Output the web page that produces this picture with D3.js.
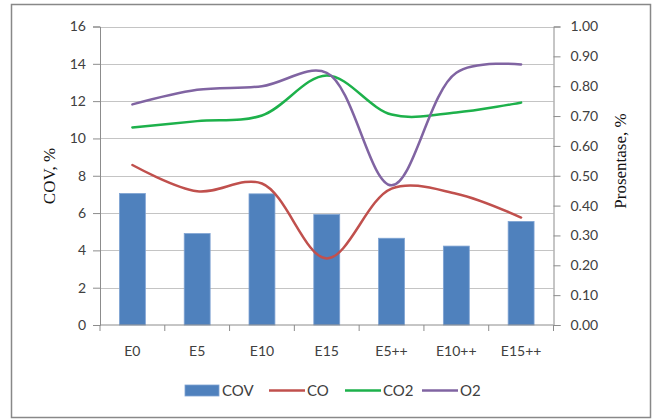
<!DOCTYPE html>
<html>
<head>
<meta charset="utf-8">
<script src="https://cdn.jsdelivr.net/npm/d3@7"></script>
<style>
  html, body { margin: 0; padding: 0; background: #fff; }
  svg { display: block; }
</style>
</head>
<body>
<svg id="chart" width="653" height="420"></svg>
<script>
// Test cases on the x axis
const categories = ["E0", "E5", "E10", "E15", "E5++", "E10++", "E15++"];

// COV, % (primary axis, bars)
const cov = [7.05, 4.9, 7.03, 5.92, 4.65, 4.23, 5.55];

// Gas fractions, % (secondary axis, smoothed lines)
const co  = [0.536, 0.448, 0.474, 0.223, 0.457, 0.440, 0.360];
const co2 = [0.662, 0.683, 0.702, 0.836, 0.705, 0.712, 0.745];
const o2  = [0.739, 0.788, 0.800, 0.845, 0.468, 0.845, 0.873];

const leftTicks  = [0, 2, 4, 6, 8, 10, 12, 14, 16];
const rightTicks = [0, 0.1, 0.2, 0.3, 0.4, 0.5, 0.6, 0.7, 0.8, 0.9, 1.0];

const series = [
  { name: "CO",  values: co,  color: "#C0504D" },
  { name: "CO2", values: co2, color: "#1DB14B" },
  { name: "O2",  values: o2,  color: "#8064A2" }
];

const svg = d3.select("#chart");
const font = "Lato, 'Open Sans', sans-serif";
const textColor = "#404040";
const axisColor = "#8c8c8c";

// chart frame
svg.append("rect")
  .attr("x", 11.5).attr("y", 4.5)
  .attr("width", 639).attr("height", 413)
  .attr("fill", "#fff")
  .attr("stroke", "#888").attr("stroke-width", 1.5);

const plot = { left: 100, right: 553.5, top: 26.5, bottom: 325 };

const x = d3.scaleBand()
  .domain(categories)
  .range([plot.left, plot.right])
  .paddingInner(0.6)
  .paddingOuter(0.3);

const xBand = d3.scaleBand().domain(categories).range([plot.left, plot.right]);

const yL = d3.scaleLinear().domain([0, 16]).range([plot.bottom, plot.top]);
const yR = d3.scaleLinear().domain([0, 1]).range([plot.bottom, plot.top]);

// horizontal gridlines on the primary scale
svg.append("g")
  .selectAll("line")
  .data(leftTicks.filter(d => d > 0))
  .join("line")
  .attr("x1", plot.left).attr("x2", plot.right)
  .attr("y1", d => Math.round(yL(d)) + 0.5)
  .attr("y2", d => Math.round(yL(d)) + 0.5)
  .attr("stroke", "#c4c4c4").attr("stroke-width", 1.2);

// bars
svg.append("g")
  .selectAll("rect")
  .data(categories)
  .join("rect")
  .attr("x", (d) => x(d))
  .attr("width", x.bandwidth())
  .attr("y", (d, i) => yL(cov[i]))
  .attr("height", (d, i) => plot.bottom - yL(cov[i]))
  .attr("fill", "#4F81BD")
  .attr("stroke", "#7fa3d3").attr("stroke-width", 0.8);

// left axis
const leftAxis = svg.append("g")
  .attr("transform", `translate(${plot.left},0)`)
  .call(d3.axisLeft(yL).tickValues(leftTicks).tickSize(7).tickPadding(7).tickFormat(d3.format("d")));
leftAxis.select(".domain").attr("stroke", axisColor);
leftAxis.selectAll(".tick line").attr("stroke", axisColor);
leftAxis.selectAll("text").attr("font-family", font).attr("font-size", 14).attr("fill", textColor);

// right axis
const rightAxis = svg.append("g")
  .attr("transform", `translate(${plot.right},0)`)
  .call(d3.axisRight(yR).tickValues(rightTicks).tickSize(7).tickPadding(10).tickFormat(d3.format(".2f")));
rightAxis.select(".domain").attr("stroke", axisColor);
rightAxis.selectAll(".tick line").attr("stroke", axisColor);
rightAxis.selectAll("text").attr("font-family", font).attr("font-size", 14).attr("fill", textColor);

// bottom axis: labels centred on bands, ticks on band boundaries
const bottom = svg.append("g").attr("transform", `translate(0,${plot.bottom})`);
bottom.append("line")
  .attr("x1", plot.left).attr("x2", plot.right)
  .attr("stroke", axisColor);
const bounds = categories.map(c => xBand(c)).concat([plot.right]);
bottom.selectAll("line.tk")
  .data(bounds)
  .join("line")
  .attr("class", "tk")
  .attr("x1", d => d).attr("x2", d => d)
  .attr("y1", 0).attr("y2", 6)
  .attr("stroke", axisColor);
bottom.selectAll("text")
  .data(categories)
  .join("text")
  .attr("x", d => xBand(d) + xBand.bandwidth() / 2)
  .attr("y", 31)
  .attr("text-anchor", "middle")
  .attr("font-family", font).attr("font-size", 14).attr("fill", textColor)
  .text(d => d);

// smoothed lines on the secondary scale
const line = d3.line()
  .x((d, i) => xBand(categories[i]) + xBand.bandwidth() / 2)
  .y(d => yR(d))
  .curve(d3.curveCatmullRom.alpha(0.5));

svg.append("g")
  .selectAll("path")
  .data(series)
  .join("path")
  .attr("d", s => line(s.values))
  .attr("fill", "none")
  .attr("stroke", s => s.color)
  .attr("stroke-width", 2.5)
  .attr("stroke-linecap", "round");

// axis titles
svg.append("text")
  .attr("transform", `translate(55,176) rotate(-90)`)
  .attr("text-anchor", "middle")
  .attr("font-family", "'Liberation Serif', 'Times New Roman', serif")
  .attr("font-size", 17).attr("fill", "#111")
  .text("COV, %");

svg.append("text")
  .attr("transform", `translate(626,161) rotate(-90)`)
  .attr("text-anchor", "middle")
  .attr("font-family", "'Liberation Serif', 'Times New Roman', serif")
  .attr("font-size", 17).attr("fill", "#111")
  .text("Prosentase, %");

// legend
const legendItems = [
  { name: "COV", color: "#4F81BD", type: "bar", x: 185 },
  { name: "CO",  color: "#C0504D", type: "line", x: 269 },
  { name: "CO2", color: "#1DB14B", type: "line", x: 345 },
  { name: "O2",  color: "#8064A2", type: "line", x: 422 }
];
const legendY = 390.5;
const lg = svg.append("g");
legendItems.forEach(item => {
  if (item.type === "bar") {
    lg.append("rect")
      .attr("x", item.x).attr("y", legendY - 5.5)
      .attr("width", 34).attr("height", 11)
      .attr("fill", item.color)
      .attr("stroke", "#7fa3d3").attr("stroke-width", 0.8);
  } else {
    lg.append("line")
      .attr("x1", item.x).attr("x2", item.x + 36)
      .attr("y1", legendY).attr("y2", legendY)
      .attr("stroke", item.color).attr("stroke-width", 2.5);
  }
  lg.append("text")
    .attr("x", item.x + (item.type === "bar" ? 37 : 38)).attr("y", legendY + 5)
    .attr("font-family", font).attr("font-size", 15).attr("fill", textColor)
    .text(item.name);
});
</script>
</body>
</html>
